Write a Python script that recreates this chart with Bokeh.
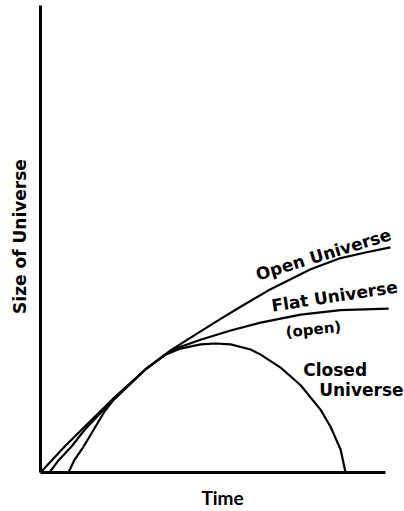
from bokeh.plotting import figure
from bokeh.models import ColumnDataSource, FixedTicker, Range1d
from bokeh.core.properties import value
from bokeh.embed import file_html
from bokeh.resources import INLINE
import math

# Time (arbitrary units) and size of universe (arbitrary units)
open_t = [0, 0.70, 1.19, 2.09, 3.04, 3.77, 4.49, 5.22, 5.80, 6.67, 7.83, 8.70, 9.42, 10.14]
open_a = [0, 0.56, 0.92, 1.58, 2.22, 2.63, 2.97, 3.31, 3.57, 3.95, 4.38, 4.62, 4.74, 4.85]

flat_t = [0.26, 0.52, 0.90, 1.28, 1.74, 2.09, 3.04, 3.62, 4.06, 4.64, 5.51, 6.38, 7.54, 8.70, 10.09]
flat_a = [0, 0.26, 0.56, 0.92, 1.28, 1.56, 2.22, 2.54, 2.71, 2.86, 3.06, 3.23, 3.40, 3.50, 3.53]

closed_t = [0.81, 0.99, 1.25, 1.54, 1.86, 2.09, 3.04, 3.62, 4.06, 4.64, 5.07, 5.51,
            6.09, 6.38, 6.96, 7.54, 8.12, 8.41, 8.70, 8.84]
closed_a = [0, 0.28, 0.56, 0.92, 1.32, 1.54, 2.22, 2.54, 2.67, 2.76, 2.78, 2.76,
            2.65, 2.54, 2.26, 1.88, 1.35, 0.98, 0.49, 0]

label_text = ["Open Universe", "Flat Universe", "(open)", "Closed", "Universe"]
label_t = [8.20, 8.52, 7.91, 8.54, 9.30]
label_a = [4.70, 3.80, 3.08, 2.21, 1.77]
label_deg = [17, 8.7, 6, 0, 0]
label_size = ["17px", "17px", "15px", "17px", "17px"]

x_label = "Time"
y_label = "Size of Universe"

FONT = "DejaVu Sans"

p = figure(width=404, height=511, output_backend="svg", toolbar_location=None,
           x_range=Range1d(0, 10.55), y_range=Range1d(0, 10.17),
           min_border_left=40, min_border_right=0, min_border_top=0, min_border_bottom=35)
p.outline_line_color = None
p.background_fill_color = "white"
p.border_fill_color = "white"
p.xgrid.visible = False
p.ygrid.visible = False

for ax in (p.xaxis[0], p.yaxis[0]):
    ax.ticker = FixedTicker(ticks=[])
    ax.major_tick_line_color = None
    ax.minor_tick_line_color = None
    ax.axis_line_width = 3
    ax.axis_line_color = "black"
    ax.axis_label_text_font_style = "bold"
    ax.axis_label_text_color = "black"

p.xaxis.bounds = (0, 10)
p.yaxis.bounds = (0, 10.06)
p.xaxis.axis_label = x_label
p.yaxis.axis_label = y_label
p.xaxis.axis_label_text_font = "Lato"
p.xaxis.axis_label_text_font_size = "19px"
p.yaxis.axis_label_text_font = FONT
p.yaxis.axis_label_text_font_size = "17px"
p.xaxis.axis_label_standoff = 13
p.yaxis.axis_label_standoff = 11

for tt, aa in ((open_t, open_a), (flat_t, flat_a), (closed_t, closed_a)):
    p.line(tt, aa, line_color="black", line_width=2.2, line_join="round")

src = ColumnDataSource(dict(x=label_t, y=label_a, text=label_text,
                            angle=[math.radians(d) for d in label_deg],
                            size=label_size))
p.text(x="x", y="y", text="text", angle="angle", source=src,
       text_font=value(FONT), text_font_style="bold", text_font_size="size",
       text_align="center", text_baseline="middle", text_color="black")

open("out.html", "w").write(file_html(p, INLINE))
